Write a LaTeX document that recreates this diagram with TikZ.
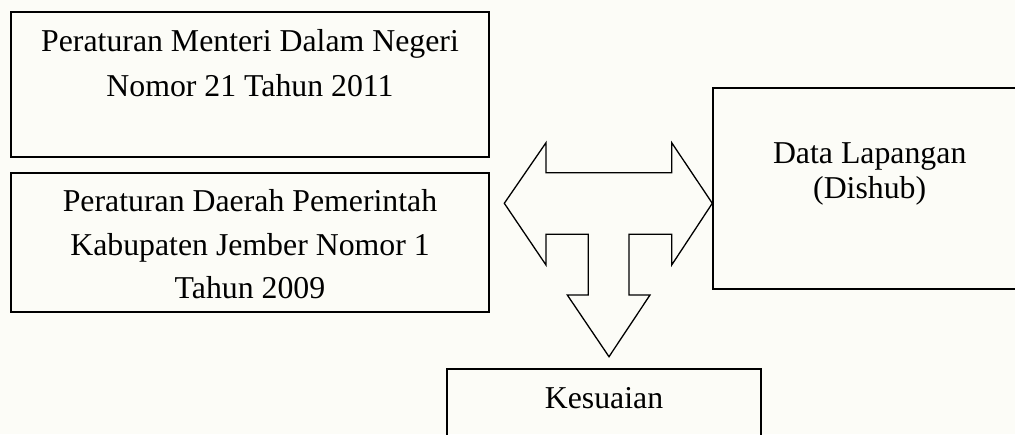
\documentclass[tikz,border=0pt]{standalone}
\usepackage{fontspec}
\setmainfont{Liberation Serif}
\definecolor{bgcream}{RGB}{252,252,247}
\begin{document}
\begin{tikzpicture}[x=1pt,y=-1pt,
  box/.style={draw,line width=1.6pt,inner sep=0pt,outer sep=0pt,anchor=north west},
  txt/.style={anchor=base,inner sep=0pt,font=\fontsize{31.8}{38}\selectfont},
  blockarrow/.style={draw,line width=1.3pt,line join=miter}]
\fill[bgcream] (0,0) rectangle (1015,434);
\useasboundingbox (0,0) rectangle (1015,434);
\clip (0,0) rectangle (1015,434);
% boxes
\node[box,minimum width=478pt,minimum height=145pt] (b1) at (11,12) {};
\node[box,minimum width=478pt,minimum height=139pt] (b2) at (11,173) {};
\node[box,minimum width=315pt,minimum height=201.3pt] (b3) at (712.7,87.7) {};
\node[box,minimum width=314.3pt,minimum height=90pt] (b4) at (446.7,369) {};
% texts
\node[txt] (t1a) at (250,51.7) {Peraturan Menteri Dalam Negeri};
\node[txt] (t1b) at (250,96) {Nomor 21 Tahun 2011};
\node[txt] (t2a) at (250,211.7) {Peraturan Daerah Pemerintah};
\node[txt] (t2b) at (250,255) {Kabupaten Jember Nomor 1};
\node[txt] (t2c) at (250,298.3) {Tahun 2009};
\node[txt] (t3a) at (869.7,163.3) {Data Lapangan};
\node[txt] (t3b) at (869.7,198.3) {(Dishub)};
\node[txt] (t4) at (604,408.3) {Kesuaian};
% block arrow
\draw[blockarrow] (504.3,203.3) -- (546,142.7) -- (546,172.7) -- (671.7,172.7)
  -- (671.7,142.7) -- (712.3,203.3) -- (671.7,265) -- (671.7,234.3)
  -- (629,234.3) -- (629,295) -- (650,295) -- (609,356.7) -- (567.3,295)
  -- (588.3,295) -- (588.3,234.3) -- (546,234.3) -- (546,265) -- cycle;
\end{tikzpicture}
\end{document}
